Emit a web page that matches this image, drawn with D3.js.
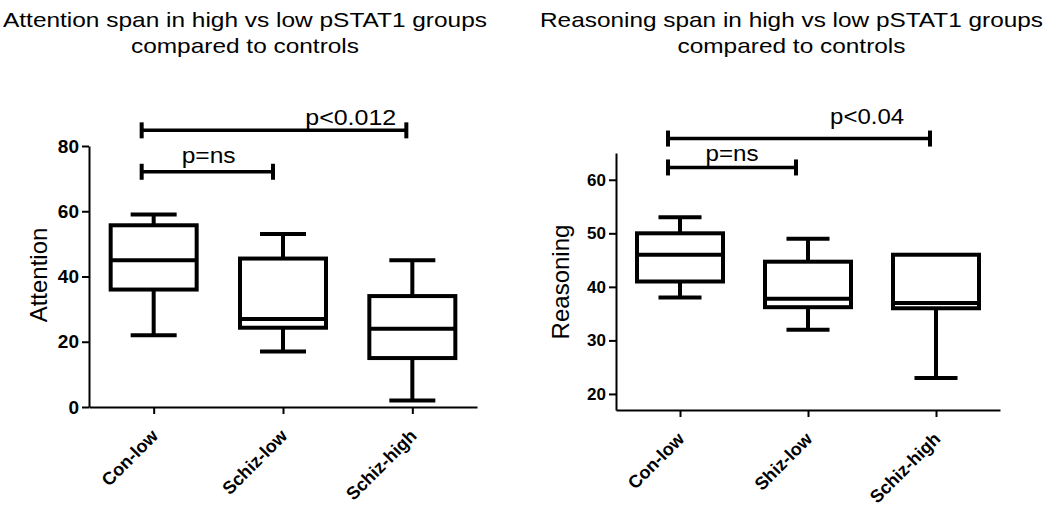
<!DOCTYPE html>
<html>
<head>
<meta charset="utf-8">
<script src="https://cdn.jsdelivr.net/npm/d3@7"></script>
<style>
  html, body { margin: 0; padding: 0; background: #fff; }
  svg { display: block; }
  text { font-family: "Liberation Sans", Arial, sans-serif; fill: #000; }
</style>
</head>
<body>
<svg id="chart" width="1050" height="507"></svg>
<script>
// ---------------- DATA ----------------
// Attention panel
const categoriesA = ["Con-low", "Schiz-low", "Schiz-high"];
const minA    = [22, 17, 2];
const q1A     = [36, 24.3, 15];
const medianA = [45, 27, 24];
const q3A     = [55.7, 45.5, 34];
const maxA    = [59, 53, 45];
const ticksA  = [0, 20, 40, 60, 80];
const titleA  = ["Attention span in high vs low pSTAT1 groups", "compared to controls"];
const yLabelA = "Attention";
const bracketsA = [
  { from: 0, to: 2, level: 84.8, text: "p<0.012" },
  { from: 0, to: 1, level: 72.1, text: "p=ns" }
];

// Reasoning panel
const categoriesR = ["Con-low", "Shiz-low", "Schiz-high"];
const minR    = [38, 32, 23];
const q1R     = [41, 36.2, 36];
const medianR = [46, 37.8, 37];
const q3R     = [50, 44.7, 46];
const maxR    = [53, 49, 46];
const ticksR  = [20, 30, 40, 50, 60];
const titleR  = ["Reasoning span in high vs low pSTAT1 groups", "compared to controls"];
const yLabelR = "Reasoning";
const bracketsR = [
  { from: 0, to: 2, level: 67.7, text: "p<0.04" },
  { from: 0, to: 1, level: 62.3, text: "p=ns" }
];

// ---------------- LAYOUT ----------------
const svg = d3.select("#chart");

const panels = [
  {
    cats: categoriesA, min: minA, q1: q1A, med: medianA, q3: q3A, max: maxA,
    ticks: ticksA, title: titleA, ylabel: yLabelA, brackets: bracketsA,
    domain: [0, 80], x0: 89, x1: 477, yTop: 146, yBottom: 407,
    tickFont: 19, capW: 46, boxW: 86,
    titleX: 245, titleLen: [484, 228],
    ylabelX: 47, ylabelY: 275,
    labelLens: [91, 54], labelFrac: [0.79, 0.51], labelLift: [5, 8.5],
    bracketEndOff: [-6, -10]
  },
  {
    cats: categoriesR, min: minR, q1: q1R, med: medianR, q3: q3R, max: maxR,
    ticks: ticksR, title: titleR, ylabel: yLabelR, brackets: bracketsR,
    domain: [17, 65], x0: 616, x1: 1000, yTop: 153, yBottom: 410,
    tickFont: 17, capW: 43, boxW: 86,
    titleX: 791.5, titleLen: [503, 228],
    ylabelX: 569, ylabelY: 282,
    labelLens: [74, 53], labelFrac: [0.76, 0.5], labelLift: [15, 6],
    bracketEndOff: [-6, -12]
  }
];

panels.forEach(p => {
  const g = svg.append("g");
  const x = d3.scalePoint().domain(p.cats).range([p.x0, p.x1]).padding(0.5);
  const y = d3.scaleLinear().domain(p.domain).range([p.yBottom, p.yTop]);

  // Title
  p.title.forEach((line, i) => {
    g.append("text")
      .attr("x", p.titleX).attr("y", 27 + i * 26)
      .attr("text-anchor", "middle")
      .attr("font-size", 21)
      .attr("textLength", p.titleLen[i])
      .attr("lengthAdjust", "spacingAndGlyphs")
      .text(line);
  });

  // Y axis
  const yAxis = g.append("g")
    .attr("transform", `translate(${p.x0},0)`)
    .call(d3.axisLeft(y).tickValues(p.ticks).tickSize(7).tickSizeOuter(0).tickPadding(3));
  yAxis.select(".domain").attr("stroke", "#000").attr("stroke-width", 2);
  yAxis.selectAll(".tick line").attr("stroke", "#000").attr("stroke-width", 2);
  yAxis.selectAll(".tick text")
    .attr("font-family", "Liberation Sans, Arial, sans-serif")
    .attr("font-size", p.tickFont).attr("font-weight", "bold").attr("fill", "#000");

  // X axis
  const xAxis = g.append("g")
    .attr("transform", `translate(0,${p.yBottom})`)
    .call(d3.axisBottom(x).tickSize(7).tickSizeOuter(0));
  xAxis.select(".domain").attr("stroke", "#000").attr("stroke-width", 2);
  xAxis.selectAll(".tick line").attr("stroke", "#000").attr("stroke-width", 2);
  xAxis.selectAll(".tick text")
    .attr("font-family", "Liberation Sans, Arial, sans-serif")
    .attr("font-size", 18).attr("font-weight", "bold").attr("fill", "#000")
    .attr("x", 0).attr("y", 0).attr("dy", 0)
    .attr("text-anchor", "end")
    .attr("transform", "translate(5,30) rotate(-45)");

  // Y label
  g.append("text")
    .attr("transform", `translate(${p.ylabelX},${p.ylabelY}) rotate(-90)`)
    .attr("text-anchor", "middle")
    .attr("font-size", 24)
    .text(p.ylabel);

  // Boxes
  const sw = 4;
  p.cats.forEach((c, i) => {
    const cx = x(c);
    const bg = g.append("g").attr("fill", "none").attr("stroke", "#000").attr("stroke-width", sw);
    // whiskers
    if (p.max[i] > p.q3[i]) {
      bg.append("line").attr("x1", cx).attr("x2", cx).attr("y1", y(p.q3[i])).attr("y2", y(p.max[i]));
      bg.append("line").attr("x1", cx - p.capW / 2).attr("x2", cx + p.capW / 2)
        .attr("y1", y(p.max[i])).attr("y2", y(p.max[i]));
    }
    if (p.min[i] < p.q1[i]) {
      bg.append("line").attr("x1", cx).attr("x2", cx).attr("y1", y(p.q1[i])).attr("y2", y(p.min[i]));
      bg.append("line").attr("x1", cx - p.capW / 2).attr("x2", cx + p.capW / 2)
        .attr("y1", y(p.min[i])).attr("y2", y(p.min[i]));
    }
    // box
    bg.append("rect")
      .attr("x", cx - p.boxW / 2).attr("width", p.boxW)
      .attr("y", y(p.q3[i])).attr("height", y(p.q1[i]) - y(p.q3[i]))
      .attr("fill", "#fff");
    // median
    bg.append("line").attr("x1", cx - p.boxW / 2).attr("x2", cx + p.boxW / 2)
      .attr("y1", y(p.med[i])).attr("y2", y(p.med[i]));
  });

  // Significance brackets
  p.brackets.forEach((b, k) => {
    const xs = x(p.cats[b.from]) - 12;
    const xe = x(p.cats[b.to]) + p.bracketEndOff[k];
    const yy = y(b.level);
    const bg = g.append("g").attr("stroke", "#000");
    bg.append("line").attr("x1", xs).attr("x2", xe).attr("y1", yy).attr("y2", yy).attr("stroke-width", 3.5);
    [xs, xe].forEach(xx => {
      bg.append("line").attr("x1", xx).attr("x2", xx).attr("y1", yy - 8).attr("y2", yy + 8).attr("stroke-width", 4);
    });
    g.append("text")
      .attr("x", xs + (xe - xs) * p.labelFrac[k])
      .attr("y", yy - p.labelLift[k])
      .attr("text-anchor", "middle")
      .attr("font-size", 22)
      .attr("textLength", p.labelLens[k])
      .attr("lengthAdjust", "spacingAndGlyphs")
      .text(b.text);
  });
});
</script>
</body>
</html>
